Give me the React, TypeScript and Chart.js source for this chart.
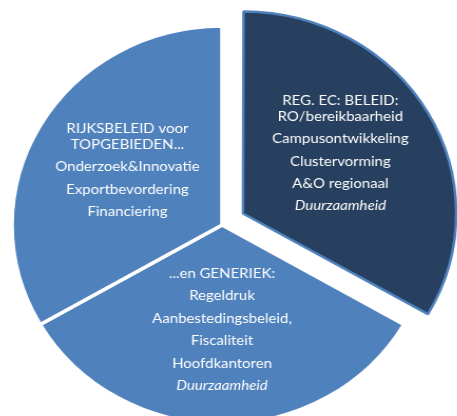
import React, { useEffect, useRef } from "react";
import { Chart, registerables } from "chart.js";

Chart.register(...registerables);

// Slices, clockwise from 12 o'clock
const categories = ["REG. EC: BELEID", "GENERIEK", "RIJKSBELEID"];
const values = [1, 1, 1];
const sliceColors = ["#27405f", "#4f81bd", "#4f81bd"];
const sliceBorders = ["#4f81bd", "#ffffff", "#ffffff"];

// Text inside each slice: paragraphs, each a list of wrapped lines
const labelsRegional = [
  ["REG. EC: BELEID:", "RO/bereikbaarheid"],
  ["Campusontwikkeling"],
  ["Clustervorming"],
  ["A&O regionaal"],
  ["Duurzaamheid"],
];
const labelsGeneric = [
  ["...en GENERIEK:"],
  ["Regeldruk"],
  ["Aanbestedingsbeleid,"],
  ["Fiscaliteit"],
  ["Hoofdkantoren"],
  ["Duurzaamheid"],
];
const labelsRijk = [
  ["RIJKSBELEID voor", "TOPGEBIEDEN..."],
  ["Onderzoek&Innovatie"],
  ["Exportbevordering"],
  ["Financiering"],
];
const sliceLabels = [labelsRegional, labelsGeneric, labelsRijk];
const italicItems = ["Duurzaamheid"];

const FONT = "Lato, 'Open Sans', sans-serif";
const textShiftY = [-7, 1, -3];

const textPlugin = {
  id: "sliceText",
  afterDatasetsDraw(chart: any) {
    const ctx = chart.ctx;
    const meta = chart.getDatasetMeta(0);
    meta.data.forEach((arc: any, i: number) => {
      const paras = sliceLabels[i];
      if (!paras) return;
      const { x, y, startAngle, endAngle, outerRadius, circumference } = arc;
      const off = arc.options.offset || 0;
      const fix = 1 - Math.sin(Math.min(Math.PI, circumference || 0));
      const eff = (off / 4) * (1 + fix);
      const mid = (startAngle + endAngle) / 2;
      const rad = outerRadius * 0.52 + eff;
      const cx = x + Math.cos(mid) * rad;
      const cy = y + Math.sin(mid) * rad + (textShiftY[i] || 0);
      const lines: { t: string; dy: number }[] = [];
      let pos = 0;
      paras.forEach((p: string[], pi: number) => {
        p.forEach((t, li) => {
          if (pi > 0 || li > 0) pos += li > 0 ? 15.5 : 22.4;
          lines.push({ t, dy: pos });
        });
      });
      const top = cy - pos / 2;
      ctx.save();
      ctx.fillStyle = "#ffffff";
      ctx.textAlign = "center";
      ctx.textBaseline = "middle";
      lines.forEach((l) => {
        const it = italicItems.includes(l.t);
        ctx.font = (it ? "italic " : "") + "14.2px " + FONT;
        ctx.fillText(l.t, cx, top + l.dy);
      });
      ctx.restore();
    });
  },
};

export default function App() {
  const ref = useRef<HTMLCanvasElement>(null);
  useEffect(() => {
    if (!ref.current) return;
    const chart = new Chart(ref.current, {
      type: "pie",
      data: {
        labels: categories,
        datasets: [
          {
            data: values,
            backgroundColor: sliceColors,
            borderColor: sliceBorders,
            borderWidth: [2.5, 3.5, 3.5],
            offset: [92, 0, 0],
            radius: 199,
          } as any,
        ],
      },
      options: {
        responsive: false,
        animation: false,
        layout: { padding: { left: 0, right: 13, top: 34, bottom: 0 } },
        plugins: {
          legend: { display: false },
          tooltip: { enabled: false },
        },
      },
      plugins: [textPlugin],
    });
    return () => chart.destroy();
  }, []);
  return (
    <div
      style={{
        position: "fixed",
        left: 0,
        top: 0,
        width: 457,
        height: 416,
        overflow: "hidden",
        background: "#ffffff",
      }}
    >
      <div style={{ transform: "scaleX(1.055)", transformOrigin: "222px 0" }}>
        <canvas ref={ref} width={457} height={416} />
      </div>
    </div>
  );
}
